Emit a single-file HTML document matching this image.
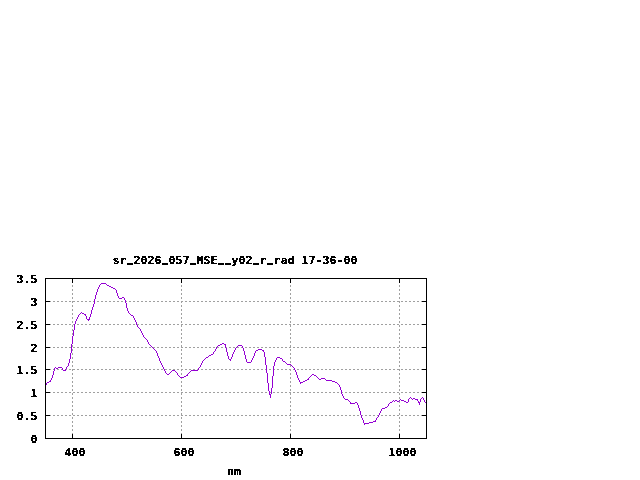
<!DOCTYPE html>
<html lang="en">
<head>
<meta charset="utf-8">
<title>sr_2026_057_MSE__y02_r_rad 17-36-00</title>
<style>
html,body{margin:0;padding:0;background:#fff;}
body{width:640px;height:480px;overflow:hidden;}
svg{display:block;}
.t text{font-family:"DejaVu Sans Mono","Liberation Mono",monospace;font-weight:bold;font-size:11px;fill:#000;stroke:#000;stroke-width:0.25px;}
.t .u{font-size:10px;stroke:none;text-shadow:0 1px 0 #000;}
</style>
</head>
<body>
<svg width="640" height="480" viewBox="0 0 640 480">
<rect width="640" height="480" fill="#fff"/>
<g stroke="#a0a0a0" stroke-width="1" stroke-dasharray="2 2" shape-rendering="crispEdges" fill="none">
<line x1="45" y1="415.5" x2="427" y2="415.5"/>
<line x1="45" y1="392.5" x2="427" y2="392.5"/>
<line x1="45" y1="369.5" x2="427" y2="369.5"/>
<line x1="45" y1="347.5" x2="427" y2="347.5"/>
<line x1="45" y1="324.5" x2="427" y2="324.5"/>
<line x1="45" y1="301.5" x2="427" y2="301.5"/>
<line x1="72.5" y1="439" x2="72.5" y2="278"/>
<line x1="181.5" y1="439" x2="181.5" y2="278"/>
<line x1="290.5" y1="439" x2="290.5" y2="278"/>
<line x1="399.5" y1="439" x2="399.5" y2="278"/>
</g>
<path fill="#9400d3" stroke="none" shape-rendering="crispEdges" d="M45 384h1v1h-1zM46 383h1v2h-1zM47 382h1v1h-1zM48 382h1v1h-1zM49 381h1v1h-1zM50 380h1v2h-1zM51 378h1v2h-1zM52 375h1v3h-1zM53 371h1v4h-1zM54 368h1v3h-1zM55 367h1v1h-1zM56 368h1v1h-1zM57 368h1v1h-1zM58 367h1v1h-1zM59 367h1v1h-1zM60 367h1v1h-1zM61 367h1v1h-1zM62 368h1v2h-1zM63 370h1v1h-1zM64 370h1v1h-1zM65 369h1v2h-1zM66 367h1v2h-1zM67 366h1v1h-1zM68 363h1v3h-1zM69 359h1v4h-1zM70 353h1v6h-1zM71 344h1v9h-1zM72 336h1v8h-1zM73 330h1v6h-1zM74 324h1v6h-1zM75 321h1v3h-1zM76 319h1v2h-1zM77 317h1v2h-1zM78 315h1v2h-1zM79 314h1v1h-1zM80 313h1v1h-1zM81 312h1v1h-1zM82 313h1v1h-1zM83 313h1v1h-1zM84 314h1v1h-1zM85 314h1v2h-1zM86 316h1v3h-1zM87 319h1v1h-1zM88 319h1v2h-1zM89 317h1v3h-1zM90 314h1v3h-1zM91 310h1v4h-1zM92 307h1v3h-1zM93 304h1v3h-1zM94 299h1v5h-1zM95 295h1v4h-1zM96 292h1v3h-1zM97 289h1v3h-1zM98 287h1v2h-1zM99 285h1v2h-1zM100 284h1v1h-1zM101 283h1v1h-1zM102 283h1v1h-1zM103 283h1v1h-1zM104 283h1v1h-1zM105 283h1v1h-1zM106 284h1v1h-1zM107 285h1v1h-1zM108 285h1v1h-1zM109 286h1v1h-1zM110 286h1v1h-1zM111 287h1v1h-1zM112 287h1v1h-1zM113 288h1v1h-1zM114 288h1v1h-1zM115 289h1v1h-1zM116 290h1v3h-1zM117 293h1v3h-1zM118 296h1v2h-1zM119 298h1v1h-1zM120 298h1v1h-1zM121 298h1v1h-1zM122 297h1v1h-1zM123 297h1v1h-1zM124 298h1v2h-1zM125 300h1v3h-1zM126 303h1v5h-1zM127 308h1v3h-1zM128 311h1v2h-1zM129 313h1v1h-1zM130 314h1v1h-1zM131 315h1v1h-1zM132 315h1v1h-1zM133 316h1v2h-1zM134 318h1v2h-1zM135 320h1v2h-1zM136 322h1v3h-1zM137 325h1v2h-1zM138 327h1v1h-1zM139 328h1v1h-1zM140 329h1v2h-1zM141 331h1v2h-1zM142 333h1v2h-1zM143 335h1v2h-1zM144 337h1v1h-1zM145 338h1v1h-1zM146 339h1v1h-1zM147 340h1v2h-1zM148 342h1v2h-1zM149 344h1v1h-1zM150 345h1v1h-1zM151 346h1v1h-1zM152 347h1v1h-1zM153 348h1v1h-1zM154 349h1v1h-1zM155 350h1v1h-1zM156 351h1v2h-1zM157 353h1v3h-1zM158 356h1v2h-1zM159 358h1v3h-1zM160 361h1v2h-1zM161 363h1v2h-1zM162 365h1v2h-1zM163 367h1v2h-1zM164 369h1v2h-1zM165 371h1v2h-1zM166 373h1v1h-1zM167 374h1v1h-1zM168 374h1v1h-1zM169 373h1v1h-1zM170 372h1v1h-1zM171 371h1v1h-1zM172 370h1v1h-1zM173 370h1v1h-1zM174 370h1v1h-1zM175 371h1v1h-1zM176 372h1v1h-1zM177 373h1v2h-1zM178 375h1v1h-1zM179 376h1v1h-1zM180 377h1v1h-1zM181 377h1v1h-1zM182 377h1v1h-1zM183 377h1v1h-1zM184 376h1v1h-1zM185 376h1v1h-1zM186 375h1v1h-1zM187 374h1v2h-1zM188 373h1v1h-1zM189 372h1v1h-1zM190 371h1v1h-1zM191 370h1v1h-1zM192 370h1v1h-1zM193 370h1v1h-1zM194 370h1v1h-1zM195 370h1v1h-1zM196 370h1v1h-1zM197 370h1v1h-1zM198 368h1v2h-1zM199 367h1v1h-1zM200 365h1v2h-1zM201 363h1v2h-1zM202 361h1v2h-1zM203 360h1v1h-1zM204 359h1v1h-1zM205 358h1v1h-1zM206 357h1v1h-1zM207 357h1v1h-1zM208 356h1v1h-1zM209 355h1v1h-1zM210 355h1v1h-1zM211 354h1v1h-1zM212 354h1v1h-1zM213 352h1v2h-1zM214 351h1v1h-1zM215 349h1v2h-1zM216 347h1v2h-1zM217 346h1v1h-1zM218 345h1v1h-1zM219 345h1v1h-1zM220 344h1v1h-1zM221 344h1v1h-1zM222 343h1v1h-1zM223 343h1v1h-1zM224 344h1v1h-1zM225 344h1v4h-1zM226 348h1v4h-1zM227 352h1v4h-1zM228 356h1v3h-1zM229 359h1v1h-1zM230 359h1v2h-1zM231 357h1v2h-1zM232 354h1v3h-1zM233 352h1v2h-1zM234 350h1v2h-1zM235 348h1v2h-1zM236 347h1v1h-1zM237 346h1v1h-1zM238 345h1v1h-1zM239 345h1v1h-1zM240 345h1v1h-1zM241 345h1v1h-1zM242 346h1v2h-1zM243 348h1v3h-1zM244 351h1v4h-1zM245 355h1v4h-1zM246 359h1v3h-1zM247 362h1v1h-1zM248 362h1v1h-1zM249 362h1v1h-1zM250 362h1v1h-1zM251 360h1v2h-1zM252 358h1v2h-1zM253 356h1v2h-1zM254 353h1v3h-1zM255 351h1v2h-1zM256 350h1v1h-1zM257 350h1v1h-1zM258 349h1v1h-1zM259 349h1v1h-1zM260 349h1v1h-1zM261 349h1v1h-1zM262 350h1v1h-1zM263 350h1v2h-1zM264 352h1v5h-1zM265 357h1v8h-1zM266 365h1v8h-1zM267 373h1v10h-1zM268 383h1v8h-1zM269 391h1v4h-1zM270 394h1v4h-1zM271 388h1v6h-1zM272 376h1v12h-1zM273 366h1v10h-1zM274 362h1v4h-1zM275 360h1v2h-1zM276 358h1v2h-1zM277 357h1v1h-1zM278 357h1v1h-1zM279 357h1v1h-1zM280 358h1v1h-1zM281 358h1v1h-1zM282 359h1v2h-1zM283 361h1v1h-1zM284 361h1v1h-1zM285 362h1v1h-1zM286 363h1v1h-1zM287 364h1v1h-1zM288 364h1v1h-1zM289 364h1v1h-1zM290 364h1v1h-1zM291 365h1v1h-1zM292 366h1v1h-1zM293 367h1v1h-1zM294 368h1v2h-1zM295 370h1v2h-1zM296 372h1v3h-1zM297 375h1v3h-1zM298 378h1v2h-1zM299 380h1v2h-1zM300 382h1v2h-1zM301 382h1v1h-1zM302 382h1v1h-1zM303 381h1v1h-1zM304 381h1v1h-1zM305 380h1v1h-1zM306 380h1v1h-1zM307 379h1v1h-1zM308 378h1v2h-1zM309 377h1v1h-1zM310 376h1v1h-1zM311 375h1v1h-1zM312 374h1v1h-1zM313 374h1v1h-1zM314 375h1v1h-1zM315 375h1v1h-1zM316 376h1v1h-1zM317 377h1v1h-1zM318 378h1v1h-1zM319 379h1v1h-1zM320 379h1v1h-1zM321 378h1v1h-1zM322 378h1v1h-1zM323 378h1v1h-1zM324 378h1v1h-1zM325 379h1v1h-1zM326 380h1v1h-1zM327 380h1v1h-1zM328 380h1v1h-1zM329 380h1v1h-1zM330 380h1v1h-1zM331 380h1v1h-1zM332 381h1v1h-1zM333 381h1v1h-1zM334 381h1v1h-1zM335 382h1v1h-1zM336 382h1v1h-1zM337 383h1v1h-1zM338 384h1v1h-1zM339 385h1v2h-1zM340 387h1v3h-1zM341 390h1v4h-1zM342 394h1v2h-1zM343 396h1v2h-1zM344 398h1v1h-1zM345 399h1v1h-1zM346 399h1v1h-1zM347 399h1v1h-1zM348 400h1v1h-1zM349 401h1v1h-1zM350 402h1v2h-1zM351 403h1v1h-1zM352 403h1v1h-1zM353 403h1v1h-1zM354 403h1v1h-1zM355 402h1v1h-1zM356 402h1v1h-1zM357 403h1v2h-1zM358 405h1v3h-1zM359 408h1v3h-1zM360 411h1v4h-1zM361 415h1v3h-1zM362 418h1v2h-1zM363 420h1v3h-1zM364 423h1v2h-1zM365 423h1v1h-1zM366 423h1v1h-1zM367 423h1v1h-1zM368 423h1v1h-1zM369 422h1v1h-1zM370 422h1v1h-1zM371 422h1v1h-1zM372 422h1v1h-1zM373 421h1v1h-1zM374 421h1v1h-1zM375 420h1v2h-1zM376 418h1v2h-1zM377 417h1v1h-1zM378 415h1v2h-1zM379 413h1v2h-1zM380 411h1v2h-1zM381 409h1v2h-1zM382 408h1v1h-1zM383 408h1v1h-1zM384 408h1v1h-1zM385 407h1v1h-1zM386 407h1v1h-1zM387 406h1v1h-1zM388 404h1v2h-1zM389 403h1v1h-1zM390 402h1v1h-1zM391 402h1v1h-1zM392 401h1v1h-1zM393 400h1v1h-1zM394 401h1v1h-1zM395 400h1v1h-1zM396 400h1v1h-1zM397 401h1v1h-1zM398 401h1v1h-1zM399 400h1v1h-1zM400 399h1v1h-1zM401 400h1v1h-1zM402 400h1v1h-1zM403 400h1v1h-1zM404 401h1v1h-1zM405 401h1v1h-1zM406 402h1v1h-1zM407 402h1v1h-1zM408 399h1v3h-1zM409 398h1v1h-1zM410 397h1v1h-1zM411 398h1v1h-1zM412 399h1v1h-1zM413 398h1v1h-1zM414 398h1v1h-1zM415 399h1v1h-1zM416 399h1v1h-1zM417 399h1v2h-1zM418 401h1v2h-1zM419 402h1v3h-1zM420 399h1v3h-1zM421 398h1v1h-1zM422 397h1v1h-1zM423 398h1v2h-1zM424 400h1v2h-1zM425 402h1v1h-1zM426 403h1v1h-1z"/>
<g stroke="#000" stroke-width="1" shape-rendering="crispEdges" fill="none">
<line x1="45" y1="438.5" x2="50" y2="438.5"/>
<line x1="422" y1="438.5" x2="427" y2="438.5"/>
<line x1="45" y1="415.5" x2="50" y2="415.5"/>
<line x1="422" y1="415.5" x2="427" y2="415.5"/>
<line x1="45" y1="392.5" x2="50" y2="392.5"/>
<line x1="422" y1="392.5" x2="427" y2="392.5"/>
<line x1="45" y1="369.5" x2="50" y2="369.5"/>
<line x1="422" y1="369.5" x2="427" y2="369.5"/>
<line x1="45" y1="347.5" x2="50" y2="347.5"/>
<line x1="422" y1="347.5" x2="427" y2="347.5"/>
<line x1="45" y1="324.5" x2="50" y2="324.5"/>
<line x1="422" y1="324.5" x2="427" y2="324.5"/>
<line x1="45" y1="301.5" x2="50" y2="301.5"/>
<line x1="422" y1="301.5" x2="427" y2="301.5"/>
<line x1="45" y1="278.5" x2="50" y2="278.5"/>
<line x1="422" y1="278.5" x2="427" y2="278.5"/>
<line x1="72.5" y1="434" x2="72.5" y2="439"/>
<line x1="72.5" y1="278" x2="72.5" y2="283"/>
<line x1="181.5" y1="434" x2="181.5" y2="439"/>
<line x1="181.5" y1="278" x2="181.5" y2="283"/>
<line x1="290.5" y1="434" x2="290.5" y2="439"/>
<line x1="290.5" y1="278" x2="290.5" y2="283"/>
<line x1="399.5" y1="434" x2="399.5" y2="439"/>
<line x1="399.5" y1="278" x2="399.5" y2="283"/>
<rect x="45.5" y="278.5" width="381" height="160"/>
</g>
<defs><filter id="bw" x="0" y="0" width="640" height="480" filterUnits="userSpaceOnUse" color-interpolation-filters="sRGB"><feComponentTransfer><feFuncA type="discrete" tableValues="0 1"/></feComponentTransfer></filter></defs>
<g filter="url(#bw)"><g class="t" transform="scale(1.06,1)">
<text x="106.13 112.74 119.81 125.94 132.55 139.15 145.75 152.83 158.96 165.57 172.17 179.25 185.38 191.98 198.58 205.66 212.26 218.40 225.00 231.60 238.68 244.81 251.89 258.02 264.62 271.23 277.83 284.43 291.04 297.64 304.25 310.85 317.45 324.06 330.66" y="264" dy="0 0 -3 3 0 0 0 -3 3 0 0 -3 3 0 0 -3 0 3 0 0 -3 3 -3 3 0 0 0 0 0 0 0 0 0 0 0">sr<tspan class="u">_</tspan>2026<tspan class="u">_</tspan>057<tspan class="u">_</tspan>MSE<tspan class="u">_</tspan><tspan class="u">_</tspan>y02<tspan class="u">_</tspan>r<tspan class="u">_</tspan>rad 17-36-00</text>
<text x="28.77" y="443">0</text>
<text x="15.57 22.17 28.77" y="420">0.5</text>
<text x="28.77" y="397">1</text>
<text x="15.57 22.17 28.77" y="374">1.5</text>
<text x="28.77" y="352">2</text>
<text x="15.57 22.17 28.77" y="329">2.5</text>
<text x="28.77" y="306">3</text>
<text x="15.57 22.17 28.77" y="283">3.5</text>
<text x="60.85 67.45 74.06" y="456">400</text>
<text x="163.68 170.28 176.89" y="456">600</text>
<text x="266.51 273.11 279.72" y="456">800</text>
<text x="366.51 373.11 379.72 386.32" y="456">1000</text>
<text x="214.15 220.75" y="475">nm</text>
</g></g>
</svg>
</body>
</html>
